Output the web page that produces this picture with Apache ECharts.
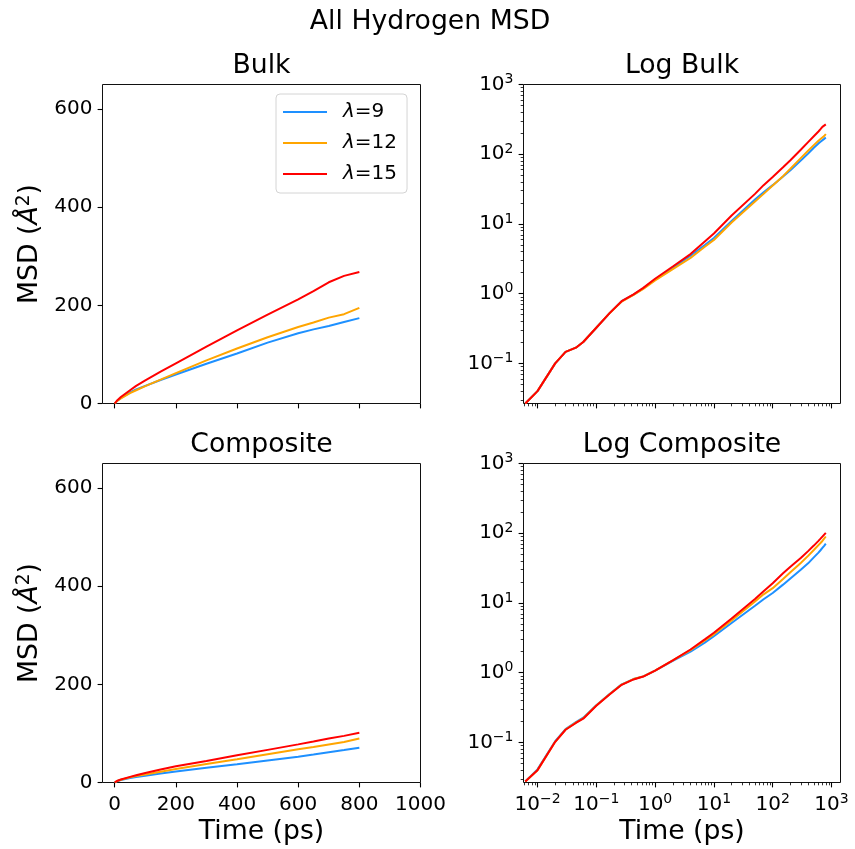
<!DOCTYPE html>
<html><head><meta charset="utf-8">
<script src="https://cdn.jsdelivr.net/npm/echarts@6/dist/echarts.min.js"></script>
<style>html,body{margin:0;padding:0;background:#fff}#c{width:855px;height:849px}</style>
</head><body><div id="c"></div>
<script>
// ---------- data ----------
const time   = [0.0062, 0.01, 0.02, 0.03, 0.045, 0.06, 0.1, 0.17, 0.27, 0.43, 0.63, 1, 2, 4, 7, 10, 20, 50, 70, 100, 150, 200, 300, 400, 500, 600, 650, 700, 750, 800];
const bulk9  = [0.0266, 0.04, 0.1, 0.146, 0.168, 0.203, 0.325, 0.53, 0.78, 0.97, 1.19, 1.6, 2.35, 3.5, 5.0, 6.3, 11.0, 22.5, 28.5, 36, 48, 59, 81, 102, 124, 143, 151, 158, 166, 174];
const bulk12 = [0.0266, 0.04, 0.1, 0.146, 0.168, 0.203, 0.325, 0.53, 0.77, 0.96, 1.17, 1.55, 2.25, 3.25, 4.7, 5.9, 10.5, 21, 27, 35.5, 48.5, 62, 88, 112, 135, 156, 165, 175, 182, 195];
const bulk15 = [0.0266, 0.04, 0.1, 0.146, 0.168, 0.203, 0.325, 0.53, 0.78, 0.98, 1.21, 1.64, 2.45, 3.7, 5.6, 7.3, 13.2, 27, 36, 47, 65, 82, 116, 149, 181, 212, 229, 247, 260, 268];
const comp9  = [0.0275, 0.041, 0.104, 0.155, 0.195, 0.226, 0.342, 0.5, 0.68, 0.81, 0.885, 1.07, 1.48, 2.0, 2.7, 3.35, 5.15, 9.1, 11.3, 13.9, 18.3, 22.5, 30, 37, 45, 52.7, 57, 61.5, 66, 71];
const comp12 = [0.0275, 0.04, 0.102, 0.153, 0.192, 0.222, 0.338, 0.495, 0.675, 0.81, 0.885, 1.07, 1.5, 2.1, 2.9, 3.55, 5.6, 10.5, 13.3, 16.3, 22, 27.5, 37.5, 47.3, 57.5, 67.6, 72.5, 77.5, 82.5, 89.8];
const comp15 = [0.0275, 0.04, 0.102, 0.152, 0.19, 0.219, 0.335, 0.49, 0.67, 0.8, 0.88, 1.07, 1.5, 2.15, 3.0, 3.74, 6.0, 11.4, 14.7, 19.2, 26.6, 33, 44, 55.4, 66.5, 77.7, 83.5, 89.5, 95, 101.4];
const seriesNames = ['λ=9', 'λ=12', 'λ=15'];
const seriesColors = ['#1E90FF', '#FFA500', '#FF0000'];
const linTicksX = [0, 200, 400, 600, 800, 1000];
const linTicksY = [0, 200, 400, 600];
const logTicksXExp = [-2, -1, 0, 1, 2, 3];
const logTicksYExp = [-1, 0, 1, 2, 3];
const linRangeX = [-40, 1000];
const linRangeY = [0, 650];
const logRangeXExp = [-2.238, 3.153];
const logRangeYExp = [-1.575, 3];
const subplotTitles = ['Bulk', 'Log Bulk', 'Composite', 'Log Composite'];

// ---------- helpers ----------
const FONT = 'DejaVu Sans';
const BLACK = '#000';
function minorExps(range) {
  const out = [];
  for (let d = Math.floor(range[0]) - 1; d <= Math.ceil(range[1]); d++) {
    for (let k = 2; k <= 9; k++) {
      const e = d + Math.log10(k);
      if (e > range[0] && e < range[1]) out.push(e);
    }
  }
  return out;
}
function expLabel(v) {
  const n = Math.round(v);
  const s = n < 0 ? '\u2212' + Math.abs(n) : String(n);
  return '{b|10}{s|' + s + '}';
}
const expRich = {
  b: { fontSize: 20, lineHeight: 24, fontFamily: FONT, color: BLACK },
  s: { fontSize: 14, lineHeight: 14, verticalAlign: 'top', fontFamily: FONT, color: BLACK }
};

const grids = [
  { left: 102.5, top: 84.5, width: 318, height: 319 },
  { left: 523.5, top: 84.5, width: 317, height: 319 },
  { left: 102.5, top: 463.5, width: 318, height: 319 },
  { left: 523.5, top: 463.5, width: 317, height: 319 }
].map(g => Object.assign(g, { show: true, borderColor: '#111', borderWidth: 1, backgroundColor: 'transparent', outerBoundsMode: 'none', containLabel: false }));

const xAxes = [], yAxes = [], series = [];
const majorTick = (vals) => ({ show: true, customValues: vals, length: 4.9, inside: false, lineStyle: { color: BLACK, width: 1.1 } });
const baseAxis = {
  axisLine: { show: false, onZero: false },
  splitLine: { show: false },
  minorTick: { show: false },
  minorSplitLine: { show: false }
};
const labelBase = { fontSize: 20, lineHeight: 24, fontFamily: FONT, color: BLACK, margin: 10 };
const nameStyle = { fontSize: 26.7, fontFamily: FONT, color: BLACK };
const plainNum = v => String(v);

function addLinear(gi, showXLabels, dataSets) {
  const xi = xAxes.length, yi = yAxes.length;
  xAxes.push(Object.assign({}, baseAxis, {
    type: 'value', gridIndex: gi, position: 'bottom', min: linRangeX[0], max: linRangeX[1],
    axisTick: majorTick(linTicksX),
    axisLabel: Object.assign({ show: showXLabels, customValues: linTicksX, formatter: plainNum }, labelBase),
    name: showXLabels ? 'Time (ps)' : '', nameLocation: 'middle', nameGap: 34, nameTextStyle: Object.assign({ lineHeight: 30 }, nameStyle)
  }));
  yAxes.push(Object.assign({}, baseAxis, {
    type: 'value', gridIndex: gi, position: 'left', min: linRangeY[0], max: linRangeY[1],
    axisTick: majorTick(linTicksY),
    axisLabel: Object.assign({ show: true, customValues: linTicksY, formatter: plainNum }, labelBase),
    name: '{a|MSD (}{i|Å}{s|2}{a|)}', nameLocation: 'middle', nameGap: 56,
    nameTextStyle: Object.assign({
      rich: {
        a: { fontSize: 26.7, lineHeight: 32, fontFamily: FONT, color: BLACK },
        i: { fontSize: 26.7, lineHeight: 32, fontFamily: FONT, color: BLACK, fontStyle: 'italic' },
        s: { fontSize: 18.7, lineHeight: 18, fontFamily: FONT, color: BLACK, verticalAlign: 'top' }
      }
    }, nameStyle)
  }));
  dataSets.forEach((vals, k) => {
    series.push({
      type: 'line', name: seriesNames[k], xAxisIndex: xi, yAxisIndex: yi,
      data: [[0, 0]].concat(time.map((t, i) => [t, vals[i]])),
      showSymbol: false, symbol: 'none', color: seriesColors[k],
      lineStyle: { color: seriesColors[k], width: 2 }, itemStyle: { color: seriesColors[k] },
      clip: true, animation: false
    });
  });
}

function addLog(gi, showXLabels, dataSets) {
  const xi = xAxes.length, yi = yAxes.length;
  xAxes.push({ type: 'log', gridIndex: gi, position: 'bottom', show: false,
    min: Math.pow(10, logRangeXExp[0]), max: Math.pow(10, logRangeXExp[1]), axisLine: { onZero: false }, splitLine: { show: false } });
  yAxes.push({ type: 'log', gridIndex: gi, position: 'left', show: false,
    min: Math.pow(10, logRangeYExp[0]), max: Math.pow(10, logRangeYExp[1]), axisLine: { onZero: false }, splitLine: { show: false } });
  xAxes.push(Object.assign({}, baseAxis, {
    type: 'value', gridIndex: gi, position: 'bottom', min: logRangeXExp[0], max: logRangeXExp[1],
    axisTick: majorTick(logTicksXExp),
    axisLabel: Object.assign({ show: showXLabels, customValues: logTicksXExp, formatter: expLabel, rich: expRich }, labelBase),
    name: showXLabels ? 'Time (ps)' : '', nameLocation: 'middle', nameGap: 34, nameTextStyle: Object.assign({ lineHeight: 30 }, nameStyle)
  }));
  yAxes.push(Object.assign({}, baseAxis, {
    type: 'value', gridIndex: gi, position: 'left', min: logRangeYExp[0], max: logRangeYExp[1],
    axisTick: majorTick(logTicksYExp),
    axisLabel: Object.assign({ show: true, customValues: logTicksYExp, formatter: expLabel, rich: expRich }, labelBase)
  }));
  xAxes.push(Object.assign({}, baseAxis, {
    type: 'value', gridIndex: gi, position: 'bottom', min: logRangeXExp[0], max: logRangeXExp[1],
    axisTick: { show: true, customValues: minorExps(logRangeXExp), length: 2.8, lineStyle: { color: BLACK, width: 0.8 } },
    axisLabel: { show: false }
  }));
  yAxes.push(Object.assign({}, baseAxis, {
    type: 'value', gridIndex: gi, position: 'left', min: logRangeYExp[0], max: logRangeYExp[1],
    axisTick: { show: true, customValues: minorExps(logRangeYExp), length: 2.8, lineStyle: { color: BLACK, width: 0.8 } },
    axisLabel: { show: false }
  }));
  dataSets.forEach((vals, k) => {
    series.push({
      type: 'line', name: seriesNames[k], xAxisIndex: xi, yAxisIndex: yi,
      data: time.map((t, i) => [t, vals[i]]),
      showSymbol: false, symbol: 'none', color: seriesColors[k],
      lineStyle: { color: seriesColors[k], width: 2 }, itemStyle: { color: seriesColors[k] },
      clip: true, animation: false
    });
  });
}

addLinear(0, false, [bulk9, bulk12, bulk15]);
addLog(1, false, [bulk9, bulk12, bulk15]);
addLinear(2, true, [comp9, comp12, comp15]);
addLog(3, true, [comp9, comp12, comp15]);

const titleStyle = { fontSize: 26.7, fontWeight: 'normal', fontFamily: FONT, color: BLACK };
const titles = [{ text: 'All Hydrogen MSD', left: 430, top: 22, textAlign: 'center', textVerticalAlign: 'middle', padding: 0, textStyle: titleStyle }];
const titlePos = [[261.5, 66.3], [682, 66.3], [261.5, 445], [682, 445]];
subplotTitles.forEach((t, i) => titles.push({ text: t, left: titlePos[i][0], top: titlePos[i][1], textAlign: 'center', textVerticalAlign: 'middle', padding: 0, textStyle: titleStyle }));

const legendRich = {
  i: { fontSize: 20, lineHeight: 22, fontFamily: FONT, color: BLACK, fontStyle: 'italic' },
  n: { fontSize: 20, lineHeight: 22, fontFamily: FONT, color: BLACK }
};

const option = {
  animation: false,
  backgroundColor: '#fff',
  title: titles,
  grid: grids,
  xAxis: xAxes,
  yAxis: yAxes,
  legend: {
    data: seriesNames, left: 276, top: 94, orient: 'vertical',
    padding: [7, 10, 8, 7], itemGap: 9, itemWidth: 44, itemHeight: 2, icon: 'rect',
    backgroundColor: 'rgba(255,255,255,0.8)', borderColor: '#d4d4d4', borderWidth: 1, borderRadius: 4,
    formatter: name => '{i|' + name.charAt(0) + '}{n|' + name.slice(1) + '}',
    textStyle: { fontSize: 20, lineHeight: 22, fontFamily: FONT, color: BLACK, padding: [0, 0, 0, 11], rich: legendRich }
  },
  series: series
};
const chart = echarts.init(document.getElementById('c'), null, { renderer: 'canvas' });
chart.setOption(option);
</script>
</body></html>
